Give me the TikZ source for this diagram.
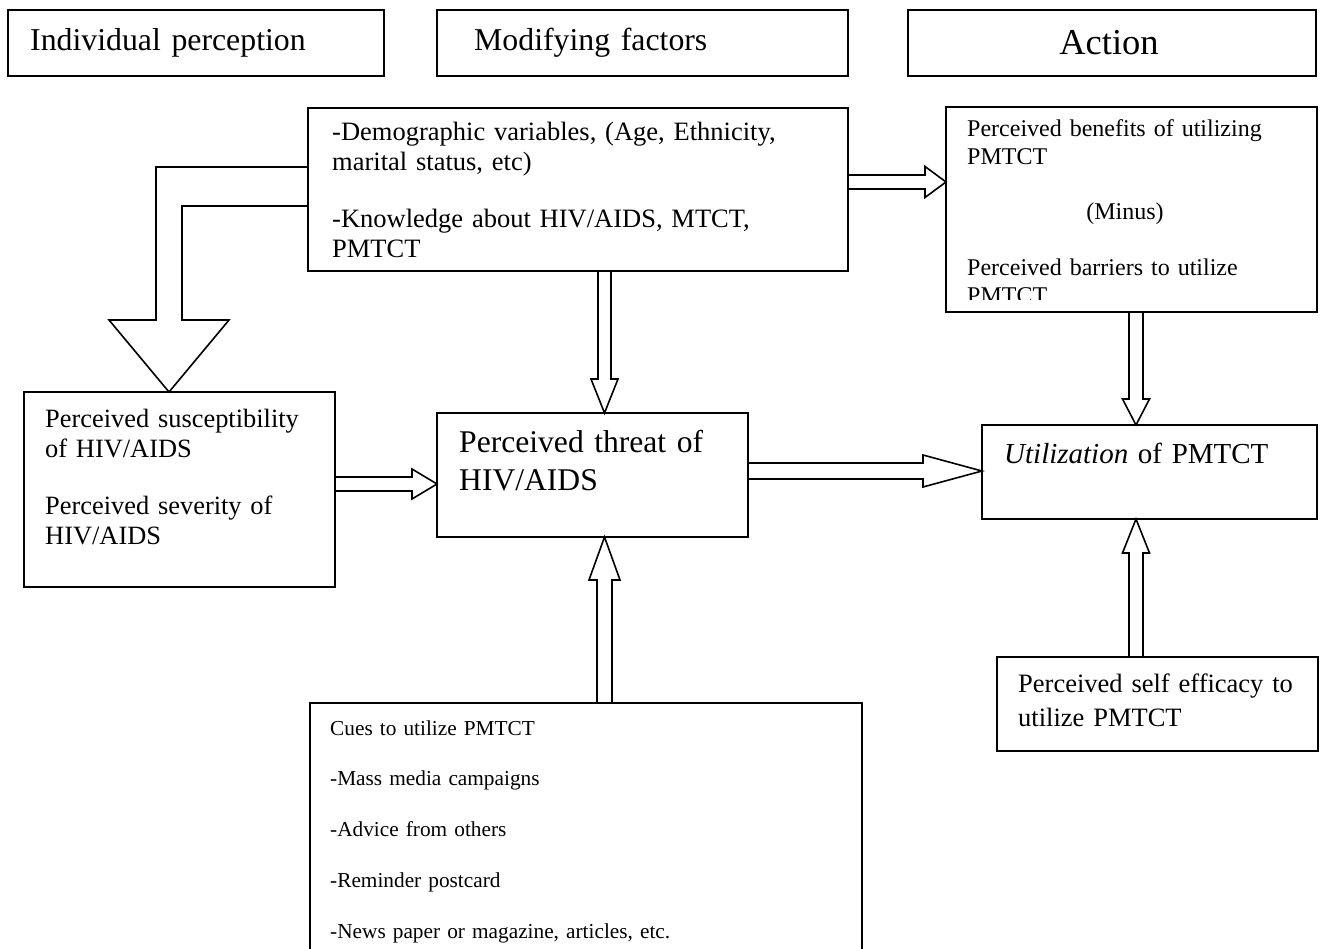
\documentclass[tikz,border=0pt]{standalone}
\usepackage{fontspec}
\setmainfont{Liberation Serif}
\usetikzlibrary{calc}

\newcommand{\rightblock}[6]{%
  \draw[blockarrow] let \p1=(#1.east), \p2=(#2.west) in
    (\x1,#3-#4) -- (\x2-#6,#3-#4) -- (\x2-#6,#3-#5) -- (\x2,#3)
    -- (\x2-#6,#3+#5) -- (\x2-#6,#3+#4) -- (\x1,#3+#4);}
\newcommand{\downblock}[6]{%
  \draw[blockarrow] let \p1=(#1.south), \p2=(#2.north) in
    (#3-#4,\y1) -- (#3-#4,\y2+#6) -- (#3-#5,\y2+#6) -- (#3,\y2)
    -- (#3+#5,\y2+#6) -- (#3+#4,\y2+#6) -- (#3+#4,\y1);}
\newcommand{\upblock}[6]{%
  \draw[blockarrow] let \p1=(#1.north), \p2=(#2.south) in
    (#3-#4,\y1) -- (#3-#4,\y2-#6) -- (#3-#5,\y2-#6) -- (#3,\y2)
    -- (#3+#5,\y2-#6) -- (#3+#4,\y2-#6) -- (#3+#4,\y1);}

\begin{document}
\begin{tikzpicture}[x=1pt,y=-1pt,
  box/.style={draw,line width=1.8pt,inner sep=0pt,outer sep=0pt,anchor=north west},
  txt/.style={inner sep=0pt,anchor=base west,align=left,text width=#1},
  blockarrow/.style={draw,line width=1.6pt,line join=miter}]
\path[use as bounding box,fill=white] (0,0) rectangle (1320,949);

\node[box,minimum width=376pt,minimum height=66pt] (hdrind) at (8,10) {};
\node[box,minimum width=411pt,minimum height=66pt] (hdrmod) at (437,10) {};
\node[box,minimum width=408pt,minimum height=66pt] (hdract) at (908,10) {};
\node[txt=340pt,font=\fontsize{31.8}{38}\selectfont] (indtxt) at (30,51) {Individual perception};
\node[txt=360pt,font=\fontsize{31.8}{38}\selectfont] (modtxt) at (474,51) {Modifying factors};
\node[inner sep=0pt,anchor=base,font=\fontsize{36.5}{42}\selectfont] (acttxt) at (1109,55) {Action};

\node[box,minimum width=540pt,minimum height=163pt] (demo) at (308,108) {};
\node[box,minimum width=371pt,minimum height=205pt] (benef) at (946,107) {};
\node[box,minimum width=311pt,minimum height=195pt] (susc) at (24,392) {};
\node[box,minimum width=311pt,minimum height=124pt] (threat) at (437,413) {};
\node[box,minimum width=335pt,minimum height=94pt] (util) at (982,425) {};
\node[box,minimum width=321pt,minimum height=94pt] (self) at (997,657) {};
\node[box,minimum width=552pt,minimum height=260pt] (cues) at (310,703) {};

\node[txt=500pt,font=\fontsize{26.5}{30}\selectfont] (demotxt) at (332,141)
  {-Demographic variables, (Age, Ethnicity,\\marital status, etc)\\[27pt]-Knowledge about HIV/AIDS, MTCT,\\PMTCT};
\node[txt=340pt,font=\fontsize{24}{28}\selectfont] (beneftxt) at (967,137)
  {Perceived benefits of utilizing\\PMTCT};
\node[inner sep=0pt,anchor=base,font=\fontsize{24}{28}\selectfont] (minustxt) at (1125,220) {(Minus)};
\begin{scope}
\clip (946,107) rectangle (1317,300);
\node[txt=340pt,font=\fontsize{24}{28}\selectfont] (bartxt) at (967,276)
  {Perceived barriers to utilize\\PMTCT};
\end{scope}
\node[txt=290pt,font=\fontsize{26.4}{30}\selectfont] (susctxt) at (45,428)
  {Perceived susceptibility\\of HIV/AIDS\\[27pt]Perceived severity of\\HIV/AIDS};
\node[txt=290pt,font=\fontsize{31.6}{37}\selectfont] (threattxt) at (459,453)
  {Perceived threat of\\HIV/AIDS};
\node[txt=320pt,font=\fontsize{29}{34}\selectfont] (utiltxt) at (1004,463)
  {\textit{Utilization} of PMTCT};
\node[txt=300pt,font=\fontsize{26.5}{34}\selectfont] (selftxt) at (1018,692)
  {Perceived self efficacy to\\utilize PMTCT};
\node[txt=500pt,font=\fontsize{21.3}{25.4}\selectfont] (cuestxt) at (330,735)
  {Cues to utilize PMTCT\\[25.4pt]-Mass media campaigns\\[25.4pt]-Advice from others\\[25.4pt]-Reminder postcard\\[25.4pt]-News paper or magazine, articles, etc.};

\draw[blockarrow] let \p1=(demo.west), \p2=(susc.north) in
  (\x1,167) -- (156,167) -- (156,\y2+72) -- (109,\y2+72) -- (169,\y2)
  -- (229,\y2+72) -- (182,\y2+72) -- (182,206) -- (\x1,206);
\rightblock{demo}{benef}{182}{7}{15.5}{21}
\rightblock{susc}{threat}{484}{7}{15}{25}
\rightblock{threat}{util}{471}{8}{16}{59}
\downblock{demo}{threat}{604.5}{6.5}{13.5}{34}
\downblock{benef}{util}{1136}{7}{13.5}{26}
\upblock{cues}{threat}{604.5}{7.5}{15.5}{43}
\upblock{self}{util}{1136}{7}{13.5}{34}
\end{tikzpicture}
\end{document}
